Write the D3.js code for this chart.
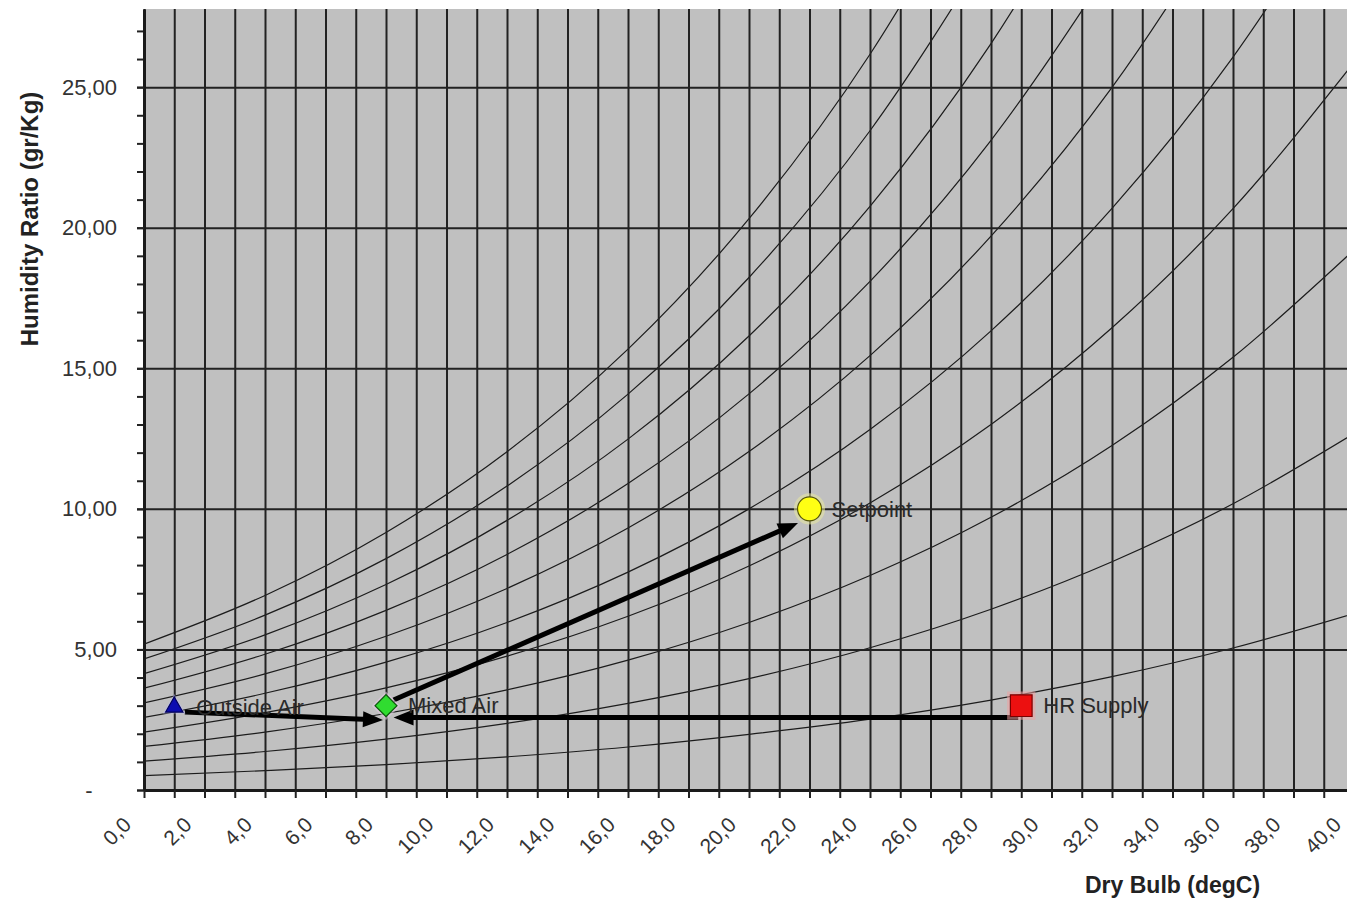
<!DOCTYPE html>
<html>
<head>
<meta charset="utf-8">
<script src="https://cdn.jsdelivr.net/npm/d3@7"></script>
<style>
  html, body { margin: 0; padding: 0; background: #ffffff; }
  svg { display: block; font-family: "Liberation Sans", Arial, sans-serif; }
</style>
</head>
<body>
<svg id="chart" width="1347" height="904"></svg>
<script>
// Dry-bulb stations (degC) at which each relative-humidity curve is tabulated
const curveTemps = [0, 4, 8, 12, 16, 20, 24, 28, 32, 36, 40];

// Humidity ratio (g/kg) along the constant-RH curves, 10 % up to saturation
const rh10  = [0.51, 0.69, 0.90, 1.18, 1.53, 1.98, 2.52, 3.20, 4.03, 5.05, 6.28];
const rh20  = [1.03, 1.37, 1.81, 2.37, 3.08, 3.96, 5.06, 6.43, 8.12, 10.18, 12.68];
const rh30  = [1.55, 2.06, 2.72, 3.56, 4.62, 5.96, 7.63, 9.70, 12.25, 15.39, 19.21];
const rh40  = [2.06, 2.75, 3.63, 4.76, 6.18, 7.97, 10.21, 13.00, 16.44, 20.68, 25.88];
const rh50  = [2.58, 3.44, 4.55, 5.96, 7.75, 10.00, 12.82, 16.33, 20.69, 26.07, 32.68];
const rh60  = [3.10, 4.13, 5.47, 7.17, 9.32, 12.04, 15.45, 19.70, 24.99, 31.54];
const rh70  = [3.62, 4.83, 6.39, 8.38, 10.90, 14.09, 18.09, 23.11, 29.34];
const rh80  = [4.14, 5.52, 7.31, 9.59, 12.48, 16.15, 20.76, 26.55, 33.76];
const rh90  = [4.66, 6.22, 8.23, 10.81, 14.08, 18.23, 23.45, 30.02];
const rh100 = [5.19, 6.92, 9.16, 12.03, 15.68, 20.32, 26.17, 33.54];
const rhCurves = [rh10, rh20, rh30, rh40, rh50, rh60, rh70, rh80, rh90, rh100];

// Axis ticks
const xTickValues = [0, 2, 4, 6, 8, 10, 12, 14, 16, 18, 20, 22, 24, 26, 28, 30, 32, 34, 36, 38, 40];
const xTickLabels = ["0,0", "2,0", "4,0", "6,0", "8,0", "10,0", "12,0", "14,0", "16,0", "18,0", "20,0",
                     "22,0", "24,0", "26,0", "28,0", "30,0", "32,0", "34,0", "36,0", "38,0", "40,0"];
const yTickValues = [0, 5, 10, 15, 20, 25];
const yTickLabels = ["-\u00a0\u00a0\u00a0\u00a0", "5,00", "10,00", "15,00", "20,00", "25,00"];

// Air states
const pointNames = ["Outside Air", "Mixed Air", "Setpoint", "HR Supply"];
const pointTemp  = [1.0, 8.0, 22.0, 29.0];
const pointHum   = [2.95, 3.0, 10.0, 3.0];

// Process arrows (start / tip)
const arrowFromT = [1.35, 28.9, 8.25];
const arrowFromW = [2.77, 2.58, 3.2];
const arrowToT   = [7.9, 8.25, 21.62];
const arrowToW   = [2.49, 2.58, 9.5];

// ---------------------------------------------------------------
const svg = d3.select("#chart");
const yMax = 27.78;
const x = d3.scaleLinear().domain([0, 40]).range([144, 1354]);
const y = d3.scaleLinear().domain([0, yMax]).range([790, 9]);
const x0 = x(0), x1 = x(40), yB = y(0), yT = y(yMax);

svg.append("defs").append("clipPath").attr("id", "plotClip")
  .append("rect").attr("x", x0).attr("y", yT).attr("width", x1 - x0).attr("height", yB - yT);

// plot background
svg.append("rect").attr("x", x0).attr("y", yT).attr("width", x1 - x0).attr("height", yB - yT)
  .attr("fill", "#c0c0c0");

// constant-RH curves
const rhLine = d3.line()
  .x((d, i) => x(curveTemps[i]))
  .y(d => y(d))
  .curve(d3.curveMonotoneX);

svg.append("g").attr("clip-path", "url(#plotClip)")
  .selectAll("path").data(rhCurves).join("path")
  .attr("d", rhLine)
  .attr("fill", "none")
  .attr("stroke", "#1c1c1c")
  .attr("stroke-width", 1.2);

// vertical grid, one line per degree
const vGrid = svg.append("g").attr("transform", `translate(0,${yB})`)
  .call(d3.axisBottom(x).ticks(40).tickSize(-(yB - yT)).tickFormat(""));
vGrid.select(".domain").remove();
vGrid.selectAll("line").attr("stroke", "#222").attr("stroke-width", 2);

// horizontal grid at the labelled ratios
const hGrid = svg.append("g").attr("transform", `translate(${x0},0)`)
  .call(d3.axisLeft(y).tickValues(yTickValues.filter(v => v > 0)).tickSize(-(x1 - x0)).tickFormat(""));
hGrid.select(".domain").remove();
hGrid.selectAll("line").attr("stroke", "#222").attr("stroke-width", 2);

// minor y ticks every 1 g/kg
const yMinor = svg.append("g").attr("transform", `translate(${x0},0)`)
  .call(d3.axisLeft(y).ticks(28).tickSize(7).tickFormat(""));
yMinor.select(".domain").remove();
yMinor.selectAll("line").attr("stroke", "#222").attr("stroke-width", 2);

// y axis with labels
const yLabelMap = new Map(yTickValues.map((v, i) => [v, yTickLabels[i]]));
const yAxis = svg.append("g").attr("transform", `translate(${x0},0)`)
  .call(d3.axisLeft(y).tickValues(yTickValues).tickSize(7).tickSizeOuter(0).tickPadding(20)
    .tickFormat(d => yLabelMap.get(d)));
yAxis.select(".domain").attr("stroke", "#1a1a1a").attr("stroke-width", 3);
yAxis.selectAll("line").attr("stroke", "#222").attr("stroke-width", 2);
yAxis.selectAll("text").attr("fill", "#333").style("font-size", "22px").style("white-space", "pre");

// x axis with rotated labels
const xLabelMap = new Map(xTickValues.map((v, i) => [v, xTickLabels[i]]));
const xAxis = svg.append("g").attr("transform", `translate(0,${yB})`)
  .call(d3.axisBottom(x).ticks(40).tickSize(8).tickSizeOuter(0)
    .tickFormat(d => xLabelMap.get(d) || ""));
xAxis.select(".domain").attr("stroke", "#1a1a1a").attr("stroke-width", 3);
xAxis.selectAll("line").attr("stroke", "#222").attr("stroke-width", 2);
xAxis.selectAll("text")
  .attr("x", 0).attr("y", 0).attr("dy", 0)
  .attr("transform", "translate(-12,36) rotate(-45)")
  .attr("text-anchor", "end")
  .attr("fill", "#333")
  .style("font-size", "21px");

// process arrows
const arrowG = svg.append("g");
arrowFromT.forEach((t, i) => {
  const sx = x(t), sy = y(arrowFromW[i]);
  const tx = x(arrowToT[i]), ty = y(arrowToW[i]);
  const dx = tx - sx, dy = ty - sy, len = Math.hypot(dx, dy);
  const ux = dx / len, uy = dy / len;
  const head = 20, half = 8;
  const bx = tx - ux * head, by = ty - uy * head;
  arrowG.append("line")
    .attr("x1", sx).attr("y1", sy)
    .attr("x2", tx - ux * head * 0.7).attr("y2", ty - uy * head * 0.7)
    .attr("stroke", "#000").attr("stroke-width", 5);
  arrowG.append("path")
    .attr("d", `M${tx},${ty}L${bx - uy * half},${by + ux * half}L${bx + uy * half},${by - ux * half}Z`)
    .attr("fill", "#000");
});

// air-state markers
const symTypes = [d3.symbolTriangle, d3.symbolSquare, d3.symbolCircle, d3.symbolSquare];
const symSizes = [130, 240, 450, 470];
const symRot   = [0, 45, 0, 0];
const symFill  = ["#0c0cb0", "#30dc30", "#ffff14", "#ec1010"];
const symStroke = ["#00005a", "#0b5a0b", "#55550a", "#7a0000"];
const symHalo  = ["#b9b9f2", "#e6c9e6", "#e8e8a0", "#f0a0a0"];

const markG = svg.append("g");
pointNames.forEach((name, i) => {
  const g = markG.append("g")
    .attr("transform", `translate(${x(pointTemp[i])},${y(pointHum[i])}) rotate(${symRot[i]})`);
  g.append("path")
    .attr("d", d3.symbol().type(symTypes[i]).size(symSizes[i] * 1.7)())
    .attr("fill", symHalo[i]).attr("opacity", 0.55);
  g.append("path")
    .attr("d", d3.symbol().type(symTypes[i]).size(symSizes[i])())
    .attr("fill", symFill[i]).attr("stroke", symStroke[i]).attr("stroke-width", 1.2);
});

markG.selectAll("text.ptlabel").data(pointNames).join("text")
  .attr("class", "ptlabel")
  .attr("x", (d, i) => x(pointTemp[i]) + 22)
  .attr("y", (d, i) => y(pointHum[i]))
  .attr("dy", "0.35em")
  .attr("fill", "#2a2a2a")
  .style("font-size", "22px")
  .text(d => d);

// axis titles
svg.append("text")
  .attr("transform", `translate(38,219) rotate(-90)`)
  .attr("text-anchor", "middle")
  .attr("fill", "#222")
  .style("font-size", "24px").style("font-weight", "bold")
  .text("Humidity Ratio (gr/Kg)");

svg.append("text")
  .attr("x", 1085).attr("y", 893)
  .attr("fill", "#222")
  .style("font-size", "23px").style("font-weight", "bold")
  .text("Dry Bulb (degC)");
</script>
</body>
</html>
